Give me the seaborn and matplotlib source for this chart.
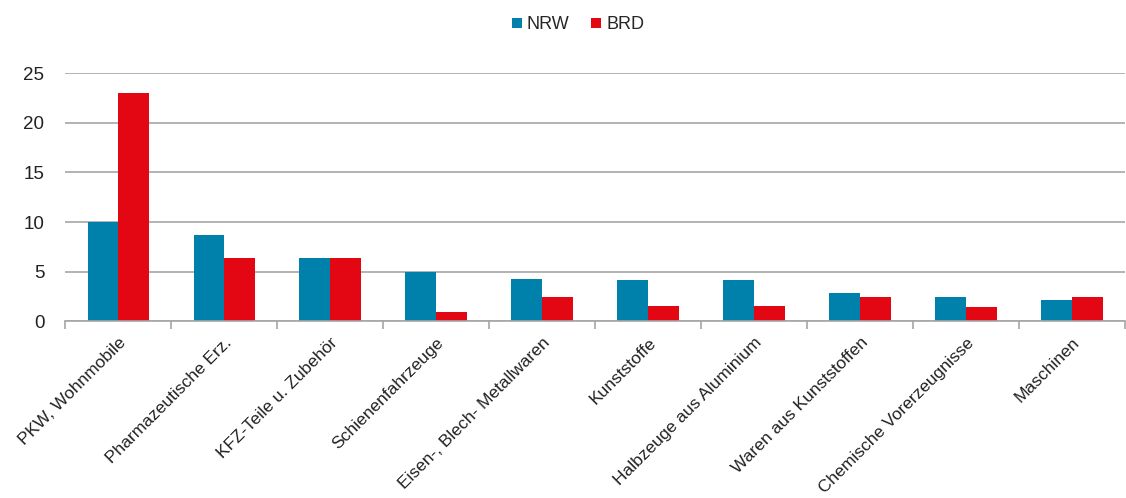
import pandas as pd
import numpy as np
import matplotlib.pyplot as plt
import seaborn as sns

# Daten
kategorien = ["PKW, Wohnmobile", "Pharmazeutische Erz.", "KFZ-Teile u. Zubehör",
              "Schienenfahrzeuge", "Eisen-, Blech- Metallwaren", "Kunststoffe",
              "Halbzeuge aus Aluminium", "Waren aus Kunststoffen",
              "Chemische Vorerzeugnisse", "Maschinen"]
nrw = [10.0, 8.7, 6.4, 5.0, 4.3, 4.2, 4.2, 2.8, 2.4, 2.1]
brd = [23.0, 6.4, 6.4, 0.9, 2.4, 1.5, 1.5, 2.4, 1.4, 2.4]
serien = ["NRW", "BRD"]
farben = ["#0081AB", "#E30613"]

df = pd.DataFrame({"Kategorie": kategorien * 2,
                   "Region": ["NRW"] * len(nrw) + ["BRD"] * len(brd),
                   "Wert": nrw + brd})

sns.set_theme(style="white")
plt.rcParams['font.family'] = ['Liberation Sans Narrow', 'Liberation Sans', 'DejaVu Sans']

fig = plt.figure(figsize=(11.26, 4.98), dpi=100)
ax = fig.add_axes([0.058, 0.355, 0.941, 0.498])

sns.barplot(data=df, x="Kategorie", y="Wert", hue="Region", hue_order=serien,
            palette=farben, width=0.58, saturation=1, linewidth=0, ax=ax, legend=True)

ax.set_ylim(0, 25)
ax.set_xlim(-0.5, len(kategorien) - 0.5)
ax.set_yticks([0, 5, 10, 15, 20, 25])
ax.yaxis.grid(True, color="#A6A6A6", linewidth=1.2)
ax.set_axisbelow(True)
ax.set_xlabel("")
ax.set_ylabel("")

for s in ["top", "right", "left"]:
    ax.spines[s].set_visible(False)
ax.spines["bottom"].set_color("#A6A6A6")
ax.spines["bottom"].set_linewidth(1.2)

ax.set_xticks(range(len(kategorien)))
ax.set_xticklabels(kategorien, rotation=45, ha="right", rotation_mode="anchor",
                   fontsize=12.5, color="#222222")
ax.set_xticks(np.arange(-0.5, len(kategorien), 1), minor=True)
ax.tick_params(axis="x", which="major", length=0, pad=10)
ax.tick_params(axis="x", which="minor", length=6, width=1.2, color="#A6A6A6", bottom=True)
ax.tick_params(axis="y", length=0, labelsize=13.5, labelcolor="#222222", pad=15)

ax.legend(loc="center", bbox_to_anchor=(0.484, 1.195), ncol=2, frameon=False,
          fontsize=13, handlelength=0.55, handleheight=0.55, handletextpad=0.3,
          columnspacing=1.2)

plt.savefig("out.png", dpi=100)
